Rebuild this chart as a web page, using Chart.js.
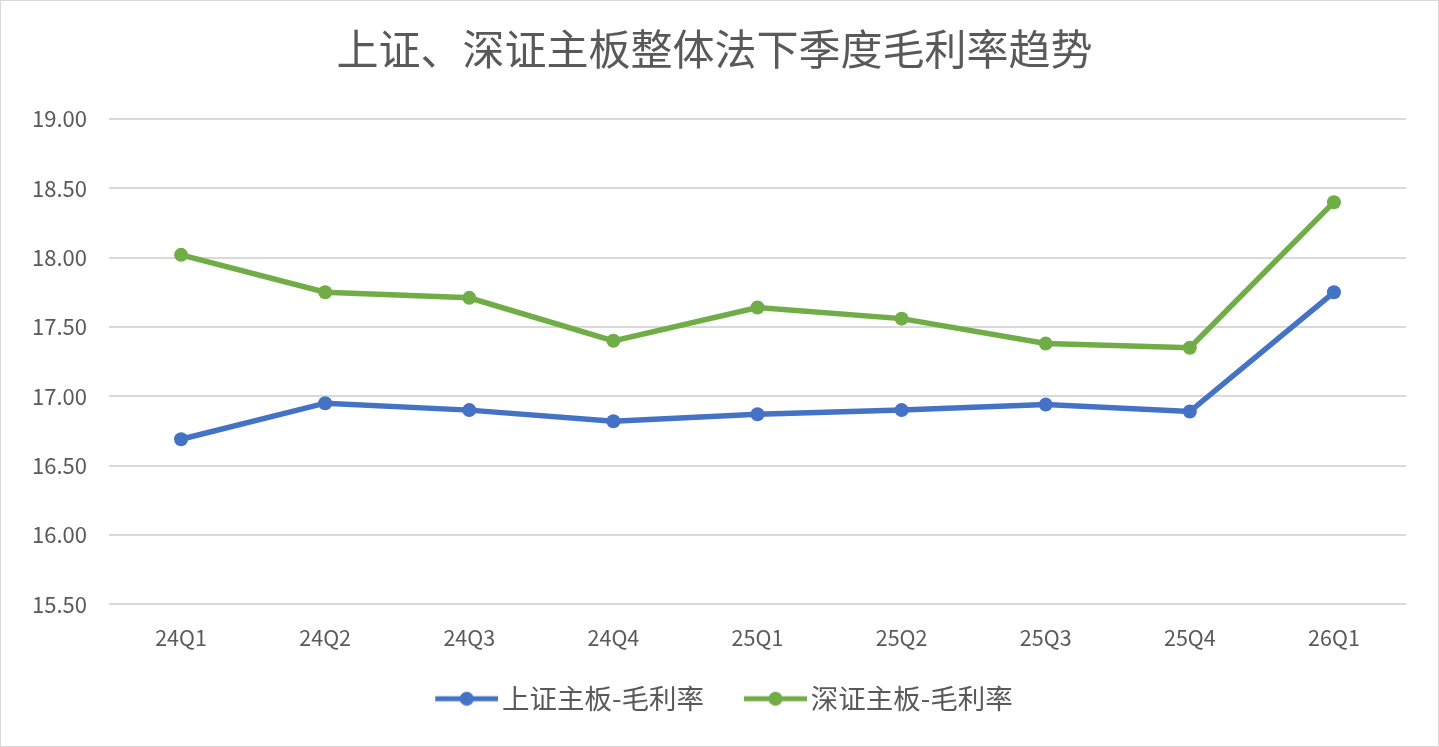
<!DOCTYPE html>
<html>
<head>
<meta charset="utf-8">
<script src="https://cdn.jsdelivr.net/npm/chart.js@4/dist/chart.umd.min.js"></script>
<style>
  html, body { margin: 0; padding: 0; background: #fff; }
  #wrap { width: 1437px; height: 745px; border: 1px solid #d9d9d9; }
</style>
</head>
<body>
<div id="wrap"><canvas id="myChart" width="1437" height="745"></canvas></div>
<script>
// 季度
const quarters = ["24Q1", "24Q2", "24Q3", "24Q4", "25Q1", "25Q2", "25Q3", "25Q4", "26Q1"];
// 上证主板-毛利率
const shMargin = [16.69, 16.95, 16.90, 16.82, 16.87, 16.90, 16.94, 16.89, 17.75];
// 深证主板-毛利率
const szMargin = [18.02, 17.75, 17.71, 17.40, 17.64, 17.56, 17.38, 17.35, 18.40];

const titleText = "上证、深证主板整体法下季度毛利率趋势";
const fontFamily = '"Noto Sans CJK SC", "Noto Sans", sans-serif';
const textColor = "#595959";
const blue = "#4472C4";
const green = "#70AD47";

// legend marker: short line with a dot in the middle.
// the image is wider than the legend box so the marker sits close to its text
const markerBox = 72;
function legendMarker(color) {
  const c = document.createElement("canvas");
  c.width = markerBox + 20;
  c.height = 16;
  const ctx = c.getContext("2d");
  const x0 = markerBox - 43, x1 = markerBox + 20;
  ctx.strokeStyle = color;
  ctx.lineWidth = 5;
  ctx.beginPath();
  ctx.moveTo(x0, 8);
  ctx.lineTo(x1, 8);
  ctx.stroke();
  ctx.fillStyle = color;
  ctx.beginPath();
  ctx.arc((x0 + x1) / 2, 8, 7, 0, Math.PI * 2);
  ctx.fill();
  return c;
}

const myChart = document.getElementById("myChart");

const data = {
  labels: quarters,
  datasets: [
    {
      label: "上证主板-毛利率",
      data: shMargin,
      borderColor: blue,
      backgroundColor: blue,
      borderWidth: 5.5,
      pointRadius: 7,
      pointBorderWidth: 0,
      tension: 0,
    },
    {
      label: "深证主板-毛利率",
      data: szMargin,
      borderColor: green,
      backgroundColor: green,
      borderWidth: 5.5,
      pointRadius: 7,
      pointBorderWidth: 0,
      tension: 0,
    },
  ],
};

const config = {
  type: "line",
  data,
  options: {
    responsive: false,
    animation: false,
    layout: { padding: { left: 22, right: 32, top: 23, bottom: 23.5 } },
    plugins: {
      title: {
        display: true,
        text: titleText,
        color: textColor,
        font: { family: fontFamily, size: 42, weight: "normal" },
        padding: { top: 0, bottom: 44.6 },
      },
      legend: {
        position: "bottom",
        labels: {
          color: textColor,
          font: { family: fontFamily, size: 27.5 },
          usePointStyle: true,
          pointStyleWidth: markerBox,
          padding: 21,
          generateLabels(chart) {
            return chart.data.datasets.map((ds, i) => ({
              text: ds.label,
              fontColor: textColor,
              pointStyle: legendMarker(ds.borderColor),
              datasetIndex: i,
              hidden: false,
              lineWidth: 0,
            }));
          },
        },
      },
      tooltip: { enabled: false },
    },
    scales: {
      x: {
        offset: true,
        grid: { display: false },
        border: { display: false },
        ticks: {
          color: textColor,
          font: { family: fontFamily, size: 21.5 },
          padding: 13,
        },
      },
      y: {
        min: 15.5,
        max: 19,
        border: { display: false },
        grid: { color: "#d9d9d9", lineWidth: 2, drawTicks: false },
        ticks: {
          stepSize: 0.5,
          color: textColor,
          font: { family: fontFamily, size: 22 },
          padding: 22,
          callback: (v) => Number(v).toFixed(2),
        },
        afterFit(scale) { scale.width = 86; },
      },
    },
  },
};

new Chart(myChart, config);
</script>
</body>
</html>
